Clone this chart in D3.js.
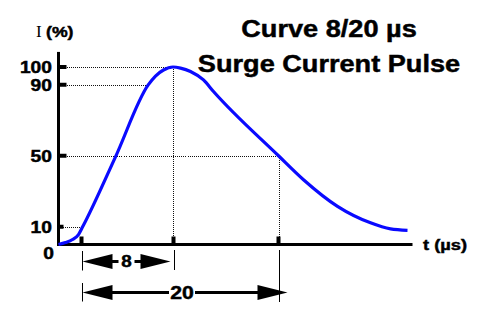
<!DOCTYPE html>
<html>
<head>
<meta charset="utf-8">
<script src="https://cdn.jsdelivr.net/npm/d3@7"></script>
<style>
  html, body { margin: 0; padding: 0; background: #fff; }
  svg { display: block; }
</style>
</head>
<body>
<script>
// ---- data ----
// schematic time positions (not to scale) and current in % of peak
const curveT = [0, 0.7, 1.4, 2.0, 2.4, 5.7, 8.97, 9.7, 10.5, 11.45, 12.2, 13.2, 14.5, 15.5, 22.0, 24.5, 27.9, 31.2, 33.2, 34.9];
const curveI = [0, 1.1, 2.8, 5.6, 9.8, 49.4, 89.9, 94.9, 98.3, 100, 99.4, 97.5, 92.7, 86.2, 50, 36.5, 21.5, 12.2, 8.8, 8.0];
const yTickValues = [10, 50, 90, 100];
const yTickLabels = ["10", "50", "90", "100"];
const guideValues = [10, 50, 90, 100];         // dotted horizontal guides
const guideT = [2.4, 22.0, 8.97, 11.45];        // where each guide meets the curve
const xMarkT = [2.3, 11.5, 22.0];               // tick marks on the time axis
const spanFrom = [2.3, 2.3];
const spanTo = [11.5, 22.0];
const spanLabels = ["8", "20"];
const titleLines = ["Curve 8/20 µs", "Surge Current Pulse"];

// ---- layout ----
const W = 480, H = 312;
const FONT = "'Liberation Sans', Arial, Helvetica, sans-serif";
const SX = 1.18; // horizontal stretch to mimic the wide black face
const svg = d3.select("body").append("svg").attr("width", W).attr("height", H)
  .attr("font-family", FONT).attr("font-weight", 700);

const x = d3.scaleLinear().domain([0, 35.4]).range([58.5, 412.5]);
const y = d3.scaleLinear().domain([0, 100]).range([244.5, 67]);

const dotted = "#111";
const px = v => Math.round(v) + 0.5;

function label(g, tx, ty, str, size, anchor, dy) {
  return g.append("text")
    .attr("transform", `translate(${tx},${ty}) scale(${SX},1)`)
    .attr("dy", dy || 0)
    .attr("text-anchor", anchor || "start")
    .attr("font-size", size)
    .attr("fill", "#000").attr("stroke", "#000").attr("stroke-width", 0.45)
    .text(str);
}

// dotted horizontal guides
svg.append("g").attr("shape-rendering", "crispEdges").selectAll("line").data(guideValues).join("line")
  .attr("x1", x(0)).attr("x2", (d, i) => x(guideT[i]))
  .attr("y1", d => px(y(d))).attr("y2", d => px(y(d)))
  .attr("stroke", dotted).attr("stroke-width", 1).attr("stroke-dasharray", "1,1");

// dotted vertical guides (peak and 50% on tail)
const vGuides = [{t: guideT[3], v: 100}, {t: guideT[1], v: 50}];
svg.append("g").attr("shape-rendering", "crispEdges").selectAll("line").data(vGuides).join("line")
  .attr("x1", d => px(x(d.t))).attr("x2", d => px(x(d.t)))
  .attr("y1", d => y(d.v)).attr("y2", y(0))
  .attr("stroke", dotted).attr("stroke-width", 1).attr("stroke-dasharray", "1,1");

// axes lines
svg.append("line").attr("x1", x(0)).attr("x2", x(0)).attr("y1", y(108.5)).attr("y2", y(0) + 1.5)
  .attr("stroke", "#000").attr("stroke-width", 3);
svg.append("line").attr("x1", x(0) - 1.5).attr("x2", x(35.4)).attr("y1", y(0)).attr("y2", y(0))
  .attr("stroke", "#000").attr("stroke-width", 3);

// y tick stubs
svg.append("g").selectAll("rect").data(yTickValues).join("rect")
  .attr("x", x(0)).attr("y", d => y(d) - 2).attr("width", d => d === 10 ? 5 : 8).attr("height", 4)
  .attr("fill", "#000");

// y tick labels
const yg = svg.append("g");
yTickValues.forEach((v, i) => label(yg, 52, y(v), yTickLabels[i], 16.3, "end", "0.36em"));
label(yg, 54, y(0) + 8.5, "0", 16.3, "end", "0.36em");

// x tick stubs
svg.append("g").selectAll("rect").data(xMarkT).join("rect")
  .attr("x", d => x(d) - 2).attr("y", y(0) - 8).attr("width", 4).attr("height", 8)
  .attr("fill", "#000");

// curve
const line = d3.line().x((d, i) => x(curveT[i])).y(d => y(d)).curve(d3.curveMonotoneX);
svg.append("path").datum(curveI).attr("d", line)
  .attr("fill", "none").attr("stroke", "#0a0aff").attr("stroke-width", 3.2)
  .attr("stroke-linejoin", "round").attr("stroke-linecap", "butt");

// axis titles
svg.append("text").attr("x", 36).attr("y", 37)
  .attr("font-family", "'Liberation Serif', 'Times New Roman', serif")
  .attr("font-weight", 400).attr("font-size", 17).text("I");
label(svg, 46, 37, "(%)", 15, "start");
label(svg, 423, y(0) + 5, "t (µs)", 15.5, "start");

// title
titleLines.forEach((t, i) => label(svg, 329, 37 + i * 34.5, t, 23, "middle"));

// span annotations
const rowY = [261.5, 292.5];
const vLineTop = [251, 283];
const ann = svg.append("g");
function arrowHead(tipX, cy, dir) {
  const L = 30, h = 7.5;
  return `M${tipX},${cy}L${tipX + dir * L},${cy - h}L${tipX + dir * L},${cy + h}Z`;
}
spanLabels.forEach((lab, i) => {
  const x0 = x(spanFrom[i]), x1 = x(spanTo[i]);
  const cy = rowY[i];
  ann.append("line").attr("x1", px(x0)).attr("x2", px(x0))
    .attr("y1", vLineTop[i]).attr("y2", cy + 9).attr("stroke", "#000").attr("stroke-width", 1);
  const tipR = i === 0 ? x1 - 3 : x1 + 9;
  const tipL = x0 + 1;
  const mid = (tipL + tipR) / 2 + (i === 1 ? -3 : 0);
  const gap = i === 0 ? 8 : 13;
  ann.append("line").attr("x1", tipL + 20).attr("x2", mid - gap).attr("y1", cy).attr("y2", cy)
    .attr("stroke", "#000").attr("stroke-width", 3);
  ann.append("line").attr("x1", mid + gap).attr("x2", tipR - 20).attr("y1", cy).attr("y2", cy)
    .attr("stroke", "#000").attr("stroke-width", 3);
  ann.append("path").attr("d", arrowHead(tipL, cy, 1)).attr("fill", "#000");
  ann.append("path").attr("d", arrowHead(tipR, cy, -1)).attr("fill", "#000");
  label(ann, mid, cy, lab, i === 0 ? 16 : 18, "middle", "0.36em");
});
// right verticals at peak and 50% tail
[spanTo[0], spanTo[1]].forEach((t, i) => {
  ann.append("line").attr("x1", px(x(t))).attr("x2", px(x(t)))
    .attr("y1", 250).attr("y2", i === 0 ? 270 : 302).attr("stroke", "#000").attr("stroke-width", 1);
});
</script>
</body>
</html>
